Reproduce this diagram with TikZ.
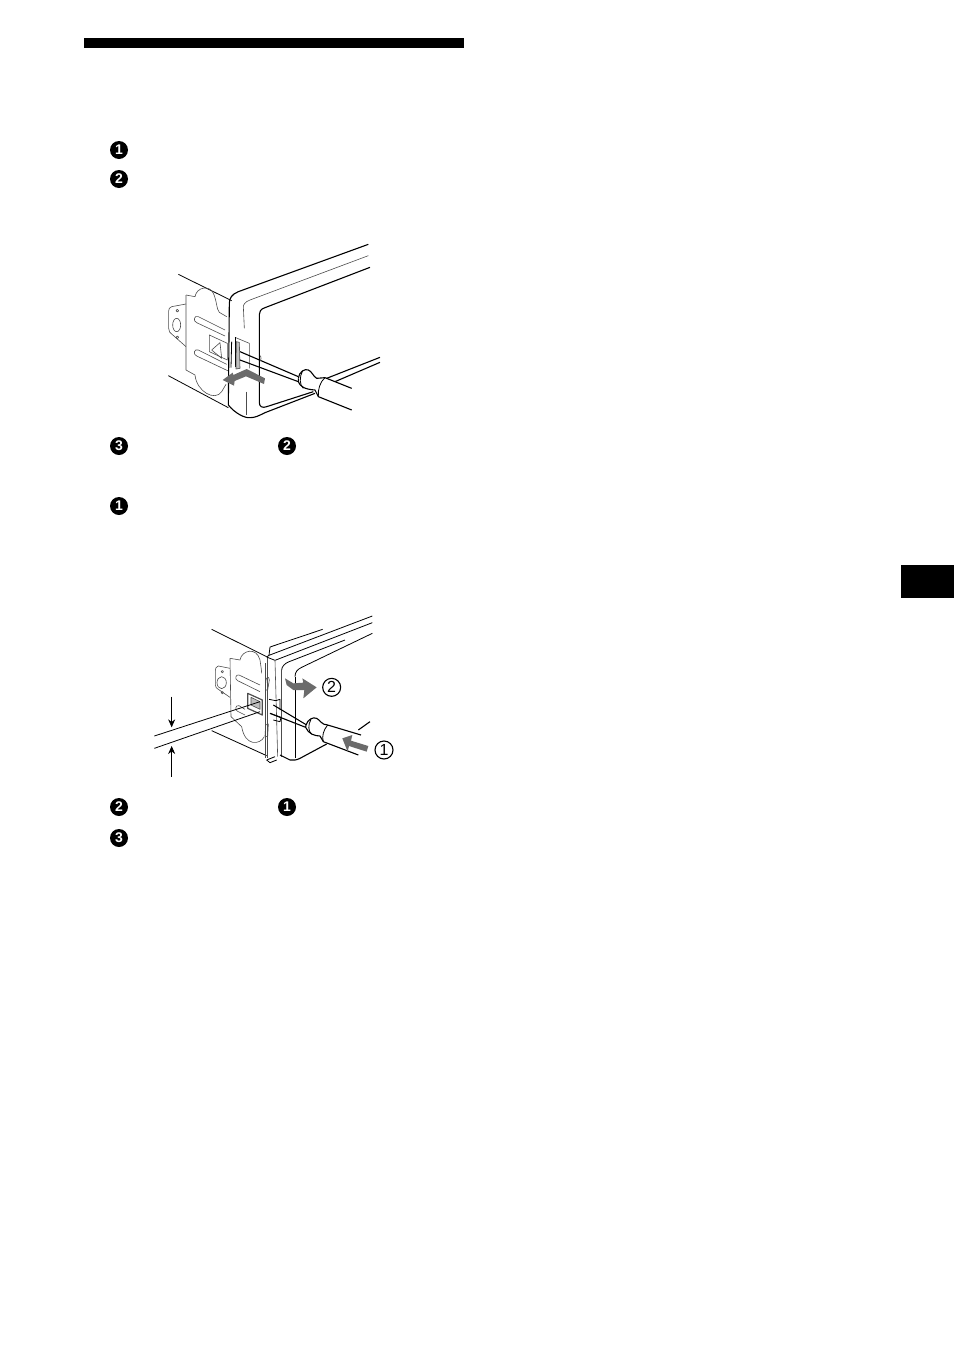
\documentclass[tikz,border=0pt]{standalone}
\usepackage{fontspec}
\setmainfont{Liberation Sans}
\usetikzlibrary{arrows.meta}
\definecolor{arrowgray}{gray}{0.42}
\definecolor{linegray}{gray}{0.3}
\tikzset{
  stepnum/.style={circle,fill=black,text=white,inner sep=0pt,minimum size=18pt,font=\bfseries\fontsize{14}{14}\selectfont},
  circnum/.style={circle,draw=black,line width=1.1,inner sep=0pt,minimum size=18pt,font=\fontsize{16}{16}\selectfont},
  heavy/.style={line width=1.1,black,line join=round},
  medium/.style={line width=0.8,black,line join=round},
  fine/.style={line width=0.6,linegray,line join=round},
  bigarrow/.style={fill=arrowgray,draw=none}
}
\begin{document}
\begin{tikzpicture}[x=1pt,y=-1pt]
  \useasboundingbox (0,0) rectangle (954,1352);
  \fill[black] (84,38) rectangle (464,48);
  \fill[black] (901,565) rectangle (954,598);
  \foreach \n/\x/\y/\lab in {a/119/150/1,b/119/179/2,c/119/446/3,d/287/446/2,e/119/506/1,f/119/807/2,g/287/807/1,h/119/838/3}{
  \node[stepnum] (step\n) at (\x,\y) {\lab};
  }
  % upper figure
  \begin{scope}[shift={(150,235)},scale=1/3]
  \draw[medium] (85,118)--(245,197);
  \draw[medium] (55,422)--(235,518);
  \draw[fine] (108,180)--(135,185) .. controls (140,155) and (180,150) .. (190,175) .. controls (200,195) and (200,225) .. (208,232) -- (230,245);
  \draw[fine] (108,180)--(108,405)--(135,420) .. controls (140,470) and (195,500) .. (215,470) -- (228,448);
  \draw[fine] (108,207)--(65,215) .. controls (58,217) and (56,222) .. (56,228) -- (56,280) .. controls (56,290) and (60,293) .. (65,297) -- (108,335);
  \draw[fine] (80,270) ellipse (12 and 20);
  \draw[fine] (82,227) circle (4);
  \draw[fine] (82,307) circle (4);
  \draw[fine] (225,285)--(145,245) .. controls (132,240) and (128,258) .. (140,263) -- (225,303);
  \draw[fine] (230,388)--(145,345) .. controls (132,340) and (128,358) .. (140,363) -- (235,408);
  \draw[fine] (178,300)--(232,325)--(232,375)--(178,350)--cycle;
  \draw[fine] (185,345)--(210,323)--(215,370)--cycle;
  \draw[heavy] (655,28)--(265,170) .. controls (245,178) and (238,190) .. (238,205) -- (235,510) .. controls (255,535) and (285,550) .. (300,548) .. controls (315,548) and (325,543) .. (345,533) -- (495,475);
  \draw[heavy] (530,430)--(690,367);
  \draw[fine] (655,62)--(300,195) .. controls (285,200) and (280,210) .. (280,215) -- (283,280);
  \draw[fine] (290,470)--(290,540);
  \draw[heavy] (660,97)--(345,218) .. controls (332,222) and (328,230) .. (328,238) -- (328,503) .. controls (328,515) and (338,520) .. (350,515) -- (490,470);
  \draw[heavy] (555,440)--(690,382);
  % clip on the side
  \draw[fine] (255,307)--(298,325)--(298,400);
  \draw[medium] (255,307)--(255,395);
  \draw[fine,fill=black!25] (259,320)--(268,322)--(270,400)--(258,402)--cycle;
  \draw[medium] (245,320)--(243,398);
  % screwdriver
  \draw[heavy] (270,350)--(445,425);
  \draw[heavy] (270,375)--(445,440);
  \draw[fine] (330,378) arc (90:-90:3 and 8);
  \draw[heavy,fill=white] (445,430) .. controls (447,410) and (465,400) .. (475,405) .. controls (485,408) and (490,425) .. (500,430) -- (525,428) -- (605,460);
  \draw[heavy,fill=white] (445,430)--(445,440) .. controls (450,455) and (465,463) .. (495,465) -- (505,485) -- (605,525);
  \draw[medium] (458,407) .. controls (448,425) and (448,450) .. (460,460);
  \draw[medium] (525,428) .. controls (510,440) and (503,465) .. (505,485);
  \path[bigarrow] (218,435)--(248,413)--(250,420)--(290,402)--(345,430)--(342,447)--(288,424)--(254,438)--(252,452)--cycle;
  \end{scope}
  % lower figure
  \begin{scope}[shift={(145,610)},scale=1/3]
  \draw[medium] (200,58)--(365,140);
  \draw[medium] (200,362)--(365,437);
  \draw[fine] (255,145)--(285,150) .. controls (290,120) and (335,110) .. (345,150) .. controls (348,170) and (350,185) .. (350,190);
  \draw[fine] (255,145)--(258,320)--(290,350) .. controls (300,410) and (345,405) .. (358,380);
  \draw[fine] (255,175)--(220,168) .. controls (213,170) and (211,175) .. (211,182) -- (211,225) .. controls (211,232) and (215,235) .. (220,238) -- (255,262);
  \draw[fine] (230,218) ellipse (14 and 18);
  \draw[fine] (232,185) circle (3.5);
  \draw[fine] (232,248) circle (3.5);
  \draw[fine] (345,225)--(282,195) .. controls (272,192) and (268,208) .. (278,212) -- (345,245);
  \draw[fine] (300,298)--(282,287) .. controls (272,284) and (268,300) .. (278,304) -- (300,315);
  \draw[fine,line width=1.2] (308,250)--(352,270)--(352,315)--(308,295)--cycle;
  \draw[fine,fill=black!25] (318,262)--(345,275)--(345,298)--(318,285)--cycle;
  \draw[fine] (360,160)--(360,445);
  \draw[fine] (368,142)--(368,445);
  \draw[fine] (362,220) .. controls (362,200) and (372,195) .. (373,210) -- (368,240) -- (360,240);
  \draw[fine] (362,345)--(370,342)--(368,380)--(360,378)--cycle;
  % frame of the unit
  \draw[medium] (372,136)--(375,111)--(533,58);
  \draw[medium] (365,141)--(372,136)--(682,18);
  \draw[medium] (365,141)--(390,151)--(682,38);
  \draw[medium] (410,180) .. controls (410,170) and (420,160) .. (430,156) -- (600,90);
  \draw[medium] (450,200) .. controls (450,185) and (458,178) .. (470,172) -- (682,70);
  \draw[fine] (390,151)--(398,440);
  \draw[fine] (410,180)--(410,440);
  \draw[medium] (450,200)--(450,445);
  \draw[heavy] (405,435)--(435,450) .. controls (445,452) and (455,450) .. (465,445) -- (545,402);
  \draw[heavy] (640,360)--(675,335);
  \draw[medium] (365,450)--(390,440);
  \draw[medium] (365,450)--(375,458)--(395,450);
  % clips and screwdriver
  \draw[medium] (372,268)--(392,272)--(405,268)--(405,300);
  \draw[medium] (375,310)--(408,322)--(405,335)--(385,330);
  \draw[medium] (28,378)--(345,275);
  \draw[medium] (28,415)--(345,305);
  \draw[heavy] (385,285)--(485,345);
  \draw[heavy] (375,310)--(482,352);
  \draw[heavy,fill=white] (483,345) .. controls (488,328) and (505,320) .. (515,325) .. controls (525,330) and (530,345) .. (548,345) -- (648,375);
  \draw[heavy,fill=white] (483,345)--(482,352) .. controls (490,372) and (510,378) .. (525,378) -- (535,395) -- (640,435);
  \draw[medium] (498,328) .. controls (488,345) and (490,365) .. (500,372);
  \draw[medium] (548,345) .. controls (535,360) and (530,380) .. (535,395);
  \path[bigarrow] (420,205)--(445,220)--(475,218)--(472,205)--(515,232)--(475,265)--(478,240)--(445,240)--(425,225)--cycle;
  \path[bigarrow] (592,385)--(622,375)--(618,392)--(670,408)--(665,425)--(612,408)--(608,425)--cycle;
  % gap between the lines
  \coordinate (dimtopa) at (80,260);
  \coordinate (dimtopb) at (80,352);
  \coordinate (dimlowa) at (80,500);
  \coordinate (dimlowb) at (80,408);
  \draw[->,>={Stealth[length=8pt,width=7pt]},line width=0.6] (dimtopa)--(dimtopb);
  \draw[->,>={Stealth[length=8pt,width=7pt]},line width=0.6] (dimlowa)--(dimlowb);
  \node[circnum] (turnnum) at (560,232) {2};
  \node[circnum] (pushnum) at (717,420) {1};
  \end{scope}
\end{tikzpicture}
\end{document}
